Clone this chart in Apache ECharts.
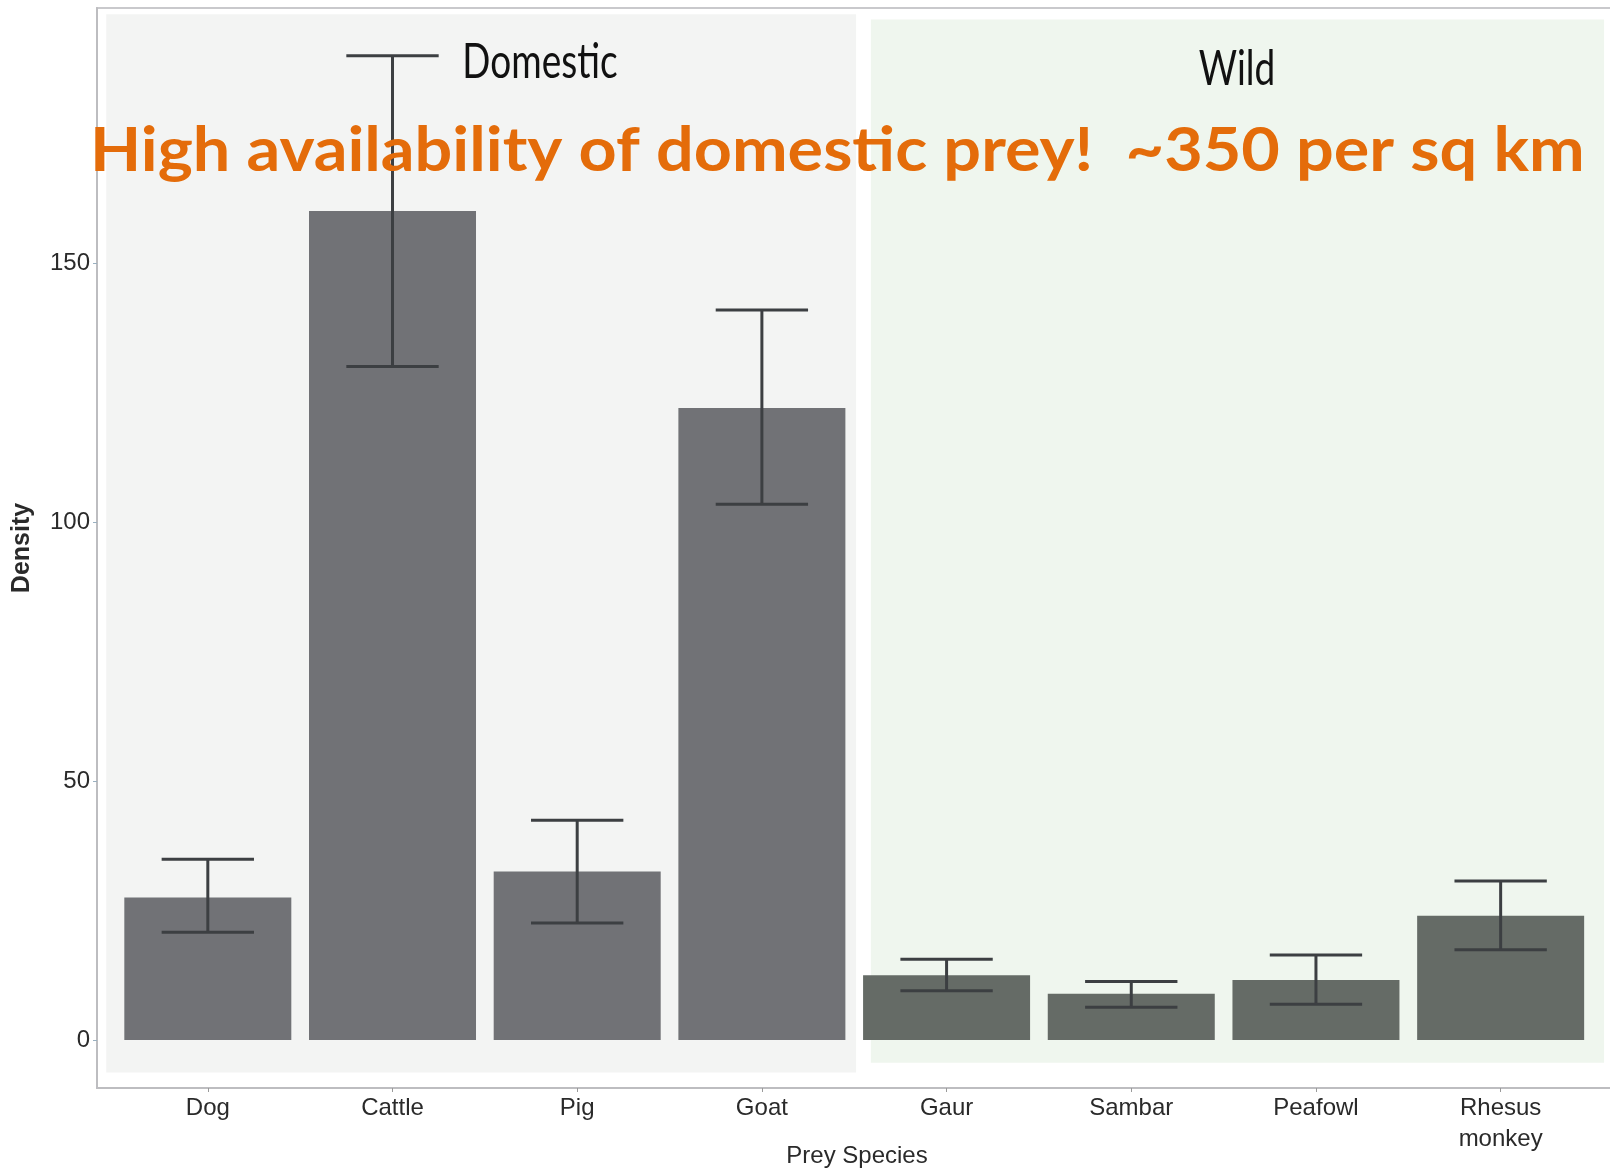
<!DOCTYPE html>
<html>
<head>
<meta charset="utf-8">
<script src="https://cdn.jsdelivr.net/npm/echarts@6/dist/echarts.min.js"></script>
<style>
html,body{margin:0;padding:0;background:#fff;}
#c{width:1610px;height:1173px;}
</style>
</head>
<body>
<div id="c"></div>
<script>
// ---- data ----
const categories = ['Dog','Cattle','Pig','Goat','Gaur','Sambar','Peafowl','Rhesus\nmonkey'];
const groups = ['Domestic','Domestic','Domestic','Domestic','Wild','Wild','Wild','Wild'];
const density = [27.5, 160, 32.5, 122, 12.5, 8.9, 11.6, 24.0];
const errLow  = [20.8, 130, 22.6, 103.4, 9.5, 6.3, 6.9, 17.4];
const errHigh = [34.9, 190, 42.4, 140.9, 15.6, 11.3, 16.4, 30.7];
const yTicks = [0, 50, 100, 150];
const panelLabels = ['Domestic', 'Wild'];
const headline = 'High availability of domestic prey!  ~350 per sq km';

const xMin = -0.6, xMax = 7.63;
const yMin = -9.27, yMax = 199.2;

const domesticBars = [], wildBars = [], errData = [];
density.forEach((v, i) => {
  if (groups[i] === 'Domestic') domesticBars.push([i, v]); else wildBars.push([i, v]);
  errData.push([i, errLow[i], errHigh[i]]);
});

const chart = echarts.init(document.getElementById('c'), null, {renderer: 'canvas'});
const axisFont = '"Liberation Sans", Arial, sans-serif';

const option = {
  animation: false,
  backgroundColor: '#ffffff',
  grid: {
    left: 97, right: -7, top: 8, bottom: 85,
    outerBoundsMode: 'none', containLabel: false,
    show: true, borderColor: '#c9c9cc', borderWidth: 2, backgroundColor: 'transparent'
  },
  xAxis: {
    type: 'value', min: xMin, max: xMax,
    splitLine: {show: false},
    axisLine: {show: true, onZero: false, lineStyle: {color: '#bdbdc0', width: 2}},
    axisTick: {show: true, length: 4, customValues: [0,1,2,3,4,5,6,7], lineStyle: {color: '#9a9a9a'}},
    axisLabel: {
      customValues: [0,1,2,3,4,5,6,7],
      formatter: v => categories[Math.round(v)] || '',
      fontFamily: axisFont, fontSize: 24, color: '#2a2a2a', margin: 5, lineHeight: 31
    },
    name: 'Prey Species', nameLocation: 'middle', nameGap: 56, nameMoveOverlap: false,
    nameTextStyle: {fontFamily: axisFont, fontSize: 24, color: '#2a2a2a'}
  },
  yAxis: {
    type: 'value', min: yMin, max: yMax,
    splitLine: {show: false},
    axisLine: {show: true, onZero: false, lineStyle: {color: '#bdbdc0', width: 2}},
    axisTick: {show: true, length: 4, customValues: yTicks, lineStyle: {color: '#9ab0c0'}},
    axisLabel: {customValues: yTicks, fontFamily: axisFont, fontSize: 24, color: '#2a2a2a', margin: 7},
    name: 'Density', nameLocation: 'middle', nameGap: 62, nameRotate: 90, nameMoveOverlap: false,
    nameTextStyle: {fontFamily: axisFont, fontSize: 25, fontWeight: 'bold', color: '#2a2a2a'}
  },
  series: [
    {
      type: 'scatter', data: [], z: 0, silent: true,
      markArea: {
        silent: true,
        data: [
          [{xAxis: -0.55, yAxis: 198.0, itemStyle: {color: '#f3f4f3'}}, {xAxis: 3.51, yAxis: -6.3}],
          [{xAxis: 3.59, yAxis: 197.0, itemStyle: {color: '#eff6ee'}}, {xAxis: 7.56, yAxis: -4.4}]
        ]
      }
    },
    {
      type: 'bar', data: domesticBars, barWidth: 167, z: 2,
      itemStyle: {color: '#717276'}
    },
    {
      type: 'bar', data: wildBars, barWidth: 167, z: 2, barGap: '-100%',
      itemStyle: {color: '#656b66'}
    },
    {
      type: 'custom', z: 5, data: errData,
      renderItem: function (params, api) {
        const x = api.value(0);
        const lo = api.coord([x, api.value(1)]);
        const hi = api.coord([x, api.value(2)]);
        const l = api.coord([x - 0.25, api.value(1)]);
        const r = api.coord([x + 0.25, api.value(1)]);
        const hw = (r[0] - l[0]) / 2;
        const st = {stroke: '#3c3f42', lineWidth: 3};
        return {
          type: 'group',
          children: [
            {type: 'line', shape: {x1: hi[0], y1: hi[1], x2: lo[0], y2: lo[1]}, style: st},
            {type: 'line', shape: {x1: hi[0] - hw, y1: hi[1], x2: hi[0] + hw, y2: hi[1]}, style: st},
            {type: 'line', shape: {x1: lo[0] - hw, y1: lo[1], x2: lo[0] + hw, y2: lo[1]}, style: st}
          ]
        };
      }
    }
  ],
  graphic: [
    {
      type: 'text', x: 540, y: 62, scaleY: 1.3, z: 10,
      style: {text: panelLabels[0], font: '37px Lato, "Noto Sans", sans-serif', fill: '#111', align: 'center', verticalAlign: 'middle'}
    },
    {
      type: 'text', x: 1237, y: 69, scaleY: 1.3, z: 10,
      style: {text: panelLabels[1], font: '37px Lato, "Noto Sans", sans-serif', fill: '#111', align: 'center', verticalAlign: 'middle'}
    },
    {
      type: 'text', x: 90, y: 151, scaleY: 0.93, z: 20,
      style: {text: headline, font: 'bold 66.5px Lato, "Noto Sans", sans-serif', fill: '#e46c0a', align: 'left', verticalAlign: 'middle'}
    }
  ]
};
chart.setOption(option);
</script>
</body>
</html>
